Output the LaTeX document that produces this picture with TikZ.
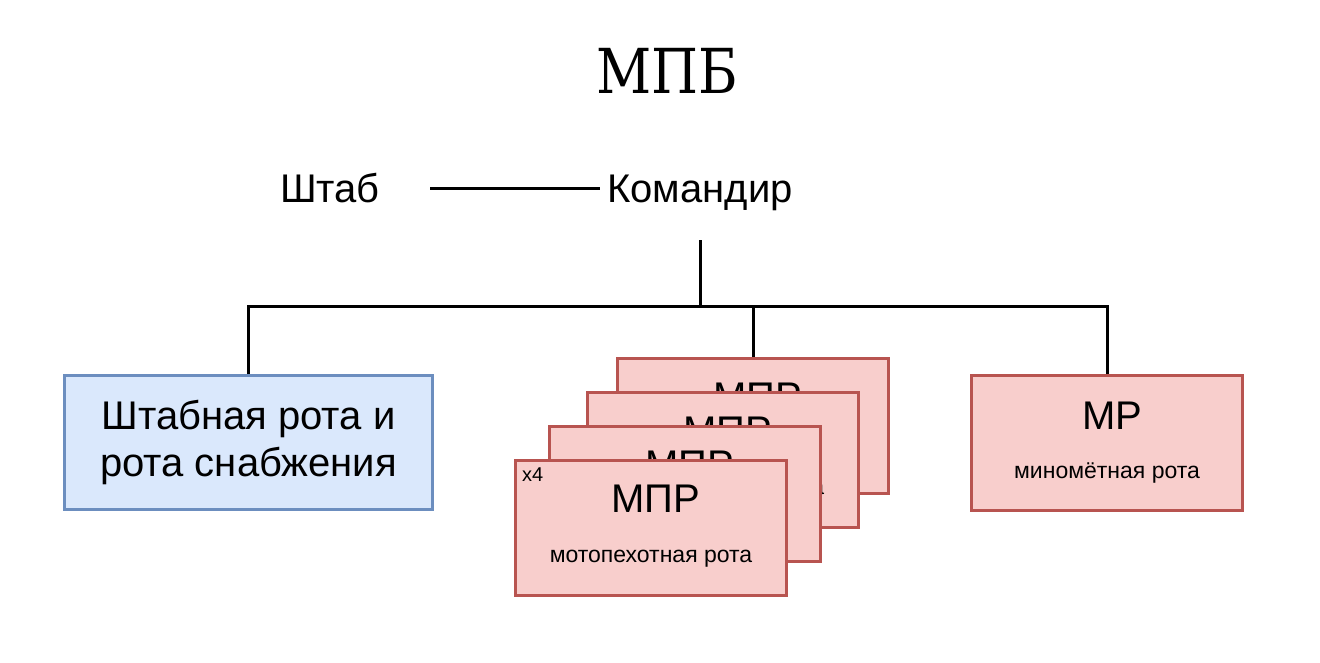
\documentclass[tikz,border=0pt]{standalone}
\usepackage{graphicx}
\usepackage{fontspec}
\setmainfont{Liberation Sans}
\newfontfamily\titlefont{DejaVu Serif}
\usetikzlibrary{calc}
\definecolor{fillblue}{HTML}{DAE8FC}
\definecolor{drawblue}{HTML}{6C8EBF}
\definecolor{fillred}{HTML}{F8CECC}
\definecolor{drawred}{HTML}{B85450}
\begin{document}
\begin{tikzpicture}[x=1pt,y=-1pt,
  conn/.style={line width=3pt, draw=black},
  toplbl/.style={inner sep=0pt, font=\fontsize{40}{46}\selectfont, text height=29pt, text depth=0pt, minimum width=200pt, minimum height=104pt},
  bluebox/.style={draw=drawblue, fill=fillblue, line width=3pt, inner sep=0pt, anchor=north west, minimum width=368pt, minimum height=134pt},
  redbox/.style={draw=drawred, fill=fillred, line width=3pt, inner sep=0pt, anchor=north west, minimum width=271pt, minimum height=135pt},
  bigtxt/.style={inner sep=0pt, anchor=base, font=\fontsize{40}{46}\selectfont},
  smalltxt/.style={inner sep=0pt, anchor=base, font=\fontsize{23}{27}\selectfont},
  tinytxt/.style={inner sep=0pt, anchor=base west, font=\fontsize{20}{23}\selectfont}
]
\useasboundingbox (0,0) rectangle (1320,662);

% title
\node[inner sep=0pt, anchor=base, font=\titlefont\fontsize{62}{70}\selectfont] (title) at (667,93) {\scalebox{0.87}[1]{МПБ}};

% top labels
\node[toplbl] (shtab) at (330,188) {Штаб};
\node[toplbl] (kom) at (700,188) {Командир};
\draw[conn] (shtab.east) -- (kom.west);

% boxes
\node[bluebox] (hq) at (63,374) {};
\node[inner sep=0pt, align=center, font=\fontsize{40}{47}\selectfont] (hqtxt) at ($(hq.north)+(0,68)$) {Штабная рота и\\рота снабжения};

\node[redbox] (m4) at (616,357) {};
\node[bigtxt] (m4a) at ($(m4.north)+(5,53)$) {МПР};
\node[smalltxt] (m4b) at ($(m4.north)+(0,103)$) {мотопехотная рота};

\node[redbox] (m3) at (586,391) {};
\node[bigtxt] (m3a) at ($(m3.north)+(5,53)$) {МПР};
\node[smalltxt] (m3b) at ($(m3.north)+(0,103)$) {мотопехотная рота};

\node[redbox] (m2) at (548,425) {};
\node[bigtxt] (m2a) at ($(m2.north)+(5,53)$) {МПР};
\node[smalltxt] (m2b) at ($(m2.north)+(0,103)$) {мотопехотная рота};

\node[redbox] (m1) at (514,459) {};
\node[bigtxt] (m1a) at ($(m1.north)+(5,53)$) {МПР};
\node[smalltxt] (m1b) at ($(m1.north)+(0,103)$) {мотопехотная рота};
\node[tinytxt] (m1c) at ($(m1.north west)+(8,22)$) {x4};

\node[redbox] (mp) at (970,374) {};
\node[bigtxt] (mpa) at ($(mp.north)+(5,55)$) {МР};
\node[smalltxt] (mpb) at ($(mp.north)+(0,104)$) {миномётная рота};

% tree connectors
\coordinate (bus) at (700,306);
\draw[conn] (kom.south) -- (bus);
\draw[conn] (hq.north) |- (bus) -| (mp.north);
\draw[conn] (m4.north) -- (m4.north |- bus);
\end{tikzpicture}
\end{document}
